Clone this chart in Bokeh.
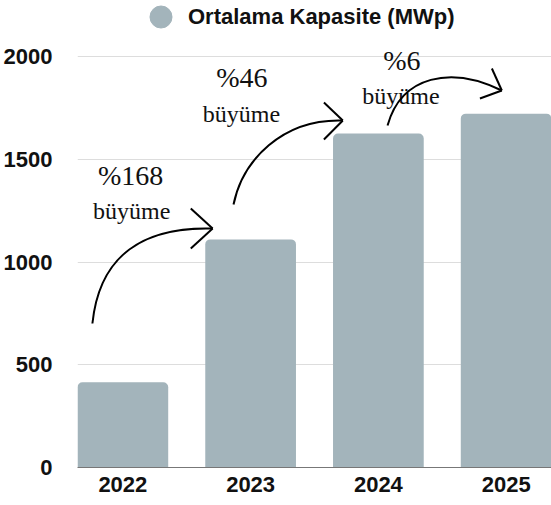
from bokeh.plotting import figure
from bokeh.models import Range1d, FixedTicker, Legend, LegendItem, ColumnDataSource
from bokeh.core.properties import value
from bokeh.embed import file_html
from bokeh.resources import INLINE

# ---------------- data ----------------
years = ["2022", "2023", "2024", "2025"]
capacity = [415, 1110, 1625, 1722]
growth_pct = ["%168", "%46", "%6"]
growth_word = "büyüme"
y_ticks = [0, 500, 1000, 1500, 2000]
series_name = "Ortalama Kapasite (MWp)"

# ---------------- layout / style ----------------
BAR_COLOR = "#a3b4bb"
W, H = 551, 505
LEFT, BOTTOM = 74, 38
BAR_W = 0.71
SANS = "Liberation Sans"
SERIF = "Liberation Serif"

frame_h = H - BOTTOM
frame_w = W - LEFT
x_start = (1 - BAR_W) / 2
x_end = len(years) - x_start
# 2000 sits 411 px above the baseline
Y_TOP = 2000 * frame_h / 411.0

# category slots: each year occupies one unit, centred on i + 0.5
slots = [i + 0.5 for i in range(len(years))]

p = figure(
    width=W, height=H,
    x_range=Range1d(x_start, x_end),
    y_range=Range1d(0, Y_TOP),
    output_backend="svg", toolbar_location=None,
    min_border_left=LEFT, min_border_right=0, min_border_top=0, min_border_bottom=BOTTOM,
)
p.outline_line_color = None
p.background_fill_color = "white"
p.border_fill_color = "white"

src = ColumnDataSource(dict(x=slots, year=years, cap=capacity))
p.vbar(x="x", top="cap", width=BAR_W, source=src, fill_color=BAR_COLOR,
       line_color=None, border_radius=(5, 5, 0, 0))

# axes
p.yaxis.ticker = FixedTicker(ticks=y_ticks)
p.yaxis.axis_line_color = None
p.yaxis.major_tick_line_color = None
p.yaxis.minor_tick_line_color = None
p.yaxis.major_label_standoff = 19
p.yaxis.major_label_text_font = SANS
p.yaxis.major_label_text_font_style = "bold"
p.yaxis.major_label_text_font_size = "22px"
p.yaxis.major_label_text_color = "#111111"

p.xaxis.ticker = FixedTicker(ticks=slots)
p.xaxis.major_label_overrides = {s: y for s, y in zip(slots, years)}
p.xaxis.axis_line_color = "#777777"
p.xaxis.axis_line_width = 1
p.xaxis.major_tick_line_color = None
p.xaxis.minor_tick_line_color = None
p.xaxis.major_label_standoff = 3
p.xaxis.major_label_text_font = SANS
p.xaxis.major_label_text_font_style = "bold"
p.xaxis.major_label_text_font_size = "22px"
p.xaxis.major_label_text_color = "#111111"

p.xgrid.grid_line_color = None
p.ygrid.ticker = FixedTicker(ticks=y_ticks)
p.ygrid.grid_line_color = "#dddddd"
p.ygrid.grid_line_width = 1

# ---------------- annotations (placed in page pixels, converted to data) ----------------
FRAME_L = LEFT
FRAME_B = frame_h
UX = frame_w / (x_end - x_start)
UY = frame_h / Y_TOP


def xs(px):
    return x_start + (px - FRAME_L) / UX


def yv(py):
    return (FRAME_B - py) / UY


arrows = [
    # P0, C1, C2, P3, arm_a, arm_b
    ((89, 323), (96, 255), (140, 226), (210, 228), (188, 208), (188, 248)),
    ((231, 204), (240, 160), (280, 118), (341, 120), (322, 102), (322, 139)),
    ((386, 125), (400, 75), (450, 65), (501, 90), (491, 68), (479, 98)),
]
texts = [
    # text, center x, baseline y, size
    (growth_pct[0], 127.5, 174.5, "28px"), (growth_word, 128.5, 210, "24px"),
    (growth_pct[1], 239.5, 77, "28px"), (growth_word, 239, 113.5, "24px"),
    (growth_pct[2], 400.5, 60, "28px"), (growth_word, 399.5, 95, "24px"),
]

for t, cx, by, fs in texts:
    p.text(x=[xs(cx)], y=[yv(by)], text=[t], text_align="center", text_baseline="alphabetic",
           text_font=value(SERIF), text_font_size=fs, text_color="#111111")

for P0, C1, C2, P3, A, B in arrows:
    p.bezier(x0=[xs(P0[0])], y0=[yv(P0[1])], x1=[xs(P3[0])], y1=[yv(P3[1])],
             cx0=[xs(C1[0])], cy0=[yv(C1[1])], cx1=[xs(C2[0])], cy1=[yv(C2[1])],
             line_color="black", line_width=2)
    p.segment(x0=[xs(A[0]), xs(B[0])], y0=[yv(A[1]), yv(B[1])],
              x1=[xs(P3[0])] * 2, y1=[yv(P3[1])] * 2, line_color="black", line_width=2)

# ---------------- legend ----------------
dot = p.scatter(x="x", y="cap", source=src, marker="circle", size=10,
                fill_color=BAR_COLOR, line_color=BAR_COLOR, visible=False)
legend = Legend(
    items=[LegendItem(label=series_name, renderers=[dot])],
    location=(56, 423), orientation="horizontal",
    glyph_width=55, glyph_height=55, label_standoff=-11,
    padding=0, margin=0, spacing=0,
    border_line_alpha=0, background_fill_alpha=0,
    label_text_font=SANS, label_text_font_style="bold", label_text_font_size="22px",
    label_text_color="#111111",
)
p.add_layout(legend, "center")

open("out.html", "w").write(file_html(p, INLINE))
